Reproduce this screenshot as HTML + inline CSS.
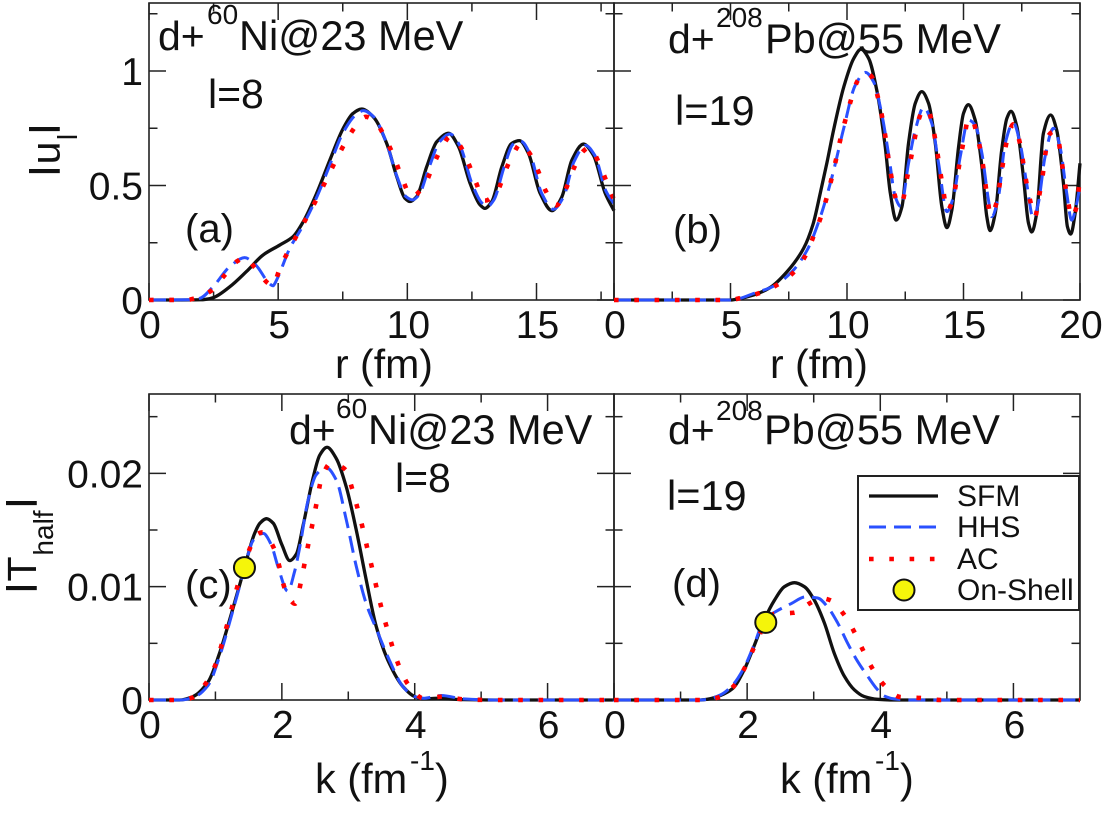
<!DOCTYPE html>
<html lang="en">
<head>
<meta charset="utf-8">
<title>Half-shell T-matrix and wave functions</title>
<style>
html,body{margin:0;padding:0;background:#fff;}
svg{display:block;}
text{font-family:"Liberation Sans",sans-serif;fill:#111;}
</style>
</head>
<body>
<svg id="chart" xmlns="http://www.w3.org/2000/svg" width="1104" height="814" viewBox="0 0 1104 814">
  <rect width="1104" height="814" fill="#fff"/>
  <g id="panels"></g>

  <g>
    <text x="158" y="50" font-size="41">d+</text>
    <text x="207" y="24" font-size="28">60</text>
    <text x="239" y="50" font-size="41.5">Ni@23 MeV</text>
    <text x="208" y="108" font-size="41">l=8</text>
    <text x="185" y="242" font-size="40">(a)</text>
  </g>
  <g>
    <text x="668" y="53" font-size="41">d+</text>
    <text x="716" y="27" font-size="28">208</text>
    <text x="765" y="53" font-size="41.5">Pb@55 MeV</text>
    <text x="675" y="125" font-size="41.5">l=19</text>
    <text x="673" y="243" font-size="40">(b)</text>
  </g>
  <g>
    <text x="289" y="444" font-size="41">d+</text>
    <text x="336" y="418" font-size="28">60</text>
    <text x="368" y="444" font-size="41.5">Ni@23 MeV</text>
    <text x="395" y="492" font-size="41">l=8</text>
    <text x="185" y="598" font-size="40">(c)</text>
  </g>
  <g>
    <text x="668" y="444" font-size="41">d+</text>
    <text x="716" y="420" font-size="28">208</text>
    <text x="764" y="444" font-size="41.5">Pb@55 MeV</text>
    <text x="667" y="510" font-size="41.5">l=19</text>
    <text x="672" y="597" font-size="40">(d)</text>
  </g>

  <text x="335" y="378" font-size="41">r (fm)</text>
  <text x="770" y="378" font-size="41">r (fm)</text>

  <g>
    <text x="315" y="793" font-size="41.5">k (fm</text>
    <text x="410" y="770" font-size="28">-1</text>
    <text x="435" y="793" font-size="41.5">)</text>
  </g>
  <g>
    <text x="780" y="793" font-size="41.5">k (fm</text>
    <text x="875" y="770" font-size="28">-1</text>
    <text x="900" y="793" font-size="41.5">)</text>
  </g>

  <g>
    <text transform="translate(52.3,171) rotate(-90)" text-anchor="middle" font-size="32" font-weight="bold">|</text>
    <text transform="translate(59.5,153) rotate(-90)" text-anchor="middle" font-size="41">u</text>
    <text transform="translate(77,137) rotate(-90)" text-anchor="middle" font-size="28">l</text>
    <text transform="translate(52.3,129) rotate(-90)" text-anchor="middle" font-size="32" font-weight="bold">|</text>
  </g>
  <g>
    <text transform="translate(29.3,588) rotate(-90)" text-anchor="middle" font-size="32" font-weight="bold">|</text>
    <text transform="translate(36,569) rotate(-90)" text-anchor="middle" font-size="41">T</text>
    <text transform="translate(53,533) rotate(-90)" text-anchor="middle" font-size="28">half</text>
    <text transform="translate(29.3,503) rotate(-90)" text-anchor="middle" font-size="32" font-weight="bold">|</text>
  </g>

  <g id="legend">
    <rect x="858" y="476" width="221" height="134" fill="#fff" stroke="#222" stroke-width="2"/>
    <line x1="869" y1="496" x2="938" y2="496" stroke="#111" stroke-width="3.2"/>
    <text x="957" y="506" font-size="30">SFM</text>
    <line x1="869" y1="527" x2="938" y2="527" stroke="#2a50ff" stroke-width="3" stroke-dasharray="17 8"/>
    <text x="957" y="537" font-size="30">HHS</text>
    <line x1="869" y1="559" x2="938" y2="559" stroke="#ff0000" stroke-width="4.6" stroke-dasharray="4.6 15.7"/>
    <text x="957" y="569" font-size="30">AC</text>
    <circle cx="904" cy="590" r="10.5" fill="#f5f50a" stroke="#111" stroke-width="2"/>
    <text x="957" y="600" font-size="30">On-Shell</text>
  </g>
</svg>

<script>
/* Tick values */
const topXMajorA = [0, 5, 10, 15];
const topXMinorA = [2.5, 7.5, 12.5, 17.5];
const topXMajorB = [5, 10, 15, 20];
const topXMinorB = [2.5, 7.5, 12.5, 17.5];
const topYMajor = [0, 0.5, 1];
const topYMinor = [0.25, 0.75, 1.25];
const topYLabels = ['0', '0.5', '1'];
const botXMajorC = [0, 2, 4, 6];
const botXMajorD = [2, 4, 6];
const botXMinor = [1, 3, 5];
const botYMajor = [0, 0.01, 0.02];
const botYMinor = [0.005, 0.015, 0.025];
const botYLabels = ['0', '0.01', '0.02'];

/* Panel (a) */
const aSfmR = [0,1,2,2.2,2.48,3.13,3.77,4.42,5.06,5.58,5.97,6.49,7,7.52,7.9,8.23,8.68,9.2,9.59,9.91,10.1,10.36,10.75,11.14,11.6,11.98,12.43,12.82,13,13.27,13.66,14.04,14.34,14.69,15.14,15.6,15.98,16.37,16.82,17.2,17.66,18];
const aSfmU = [0,0,0.001,0.003,0.01,0.058,0.124,0.197,0.24,0.277,0.342,0.466,0.611,0.75,0.815,0.834,0.8,0.684,0.539,0.444,0.43,0.451,0.582,0.691,0.728,0.67,0.509,0.415,0.4,0.43,0.582,0.684,0.696,0.64,0.466,0.39,0.45,0.611,0.681,0.633,0.466,0.39];
const aHhsR = [0,1.5,1.96,2.48,3.13,3.7,4.13,4.65,4.8,4.86,5,5.45,5.9,6.5,7,7.5,8,8.3,8.7,9.2,9.6,9.95,10.2,10.45,10.85,11.25,11.65,12.05,12.5,12.9,13.1,13.35,13.75,14.1,14.4,14.75,15.2,15.65,16.05,16.45,16.9,17.25,17.7,18];
const aHhsU = [0,0.001,0.007,0.058,0.146,0.185,0.153,0.073,0.062,0.07,0.102,0.226,0.313,0.451,0.59,0.728,0.808,0.827,0.8,0.684,0.539,0.451,0.437,0.459,0.582,0.691,0.725,0.67,0.509,0.422,0.408,0.437,0.582,0.681,0.693,0.638,0.466,0.396,0.451,0.604,0.675,0.633,0.473,0.42];
const aAcR = [0,1.5,1.66,2.39,2.91,3.42,3.71,4.1,4.61,4.78,4.86,5.08,5.44,5.81,6.19,6.56,6.91,7.26,7.64,8.07,8.4,8.77,9.17,9.5,9.78,10.17,10.69,11.01,11.36,11.65,12,12.36,12.65,13,13.49,13.78,14.11,14.4,14.72,15.07,15.34,15.76,16.15,16.44,16.82,17.05,17.4,17.7,18];
const aAcU = [0,0.001,0.004,0.039,0.106,0.17,0.185,0.141,0.073,0.062,0.075,0.143,0.223,0.301,0.377,0.456,0.536,0.616,0.696,0.769,0.8,0.776,0.702,0.62,0.537,0.452,0.508,0.591,0.67,0.713,0.68,0.598,0.515,0.434,0.477,0.56,0.64,0.684,0.643,0.562,0.48,0.413,0.488,0.574,0.651,0.667,0.603,0.52,0.437];

/* Panel (b) */
const bSfmR = [0,5,5.29,6,6.71,7.43,8.14,8.54,8.86,9.14,9.43,9.86,10.29,10.6,10.93,11.29,11.64,11.86,12.11,12.36,12.64,12.93,13.21,13.5,13.79,14.07,14.29,14.5,14.79,15,15.21,15.5,15.79,16,16.14,16.36,16.64,16.86,17.04,17.29,17.57,17.79,17.93,18.14,18.43,18.74,19,19.29,19.46,19.6,19.79,20];
const bSfmU = [0,0,0.004,0.022,0.055,0.124,0.226,0.33,0.47,0.6,0.745,0.93,1.055,1.095,1.055,0.91,0.67,0.466,0.349,0.408,0.684,0.859,0.91,0.859,0.684,0.408,0.316,0.393,0.67,0.815,0.853,0.786,0.582,0.364,0.303,0.378,0.655,0.793,0.824,0.757,0.539,0.335,0.297,0.378,0.728,0.808,0.742,0.509,0.32,0.288,0.378,0.597];
const bHhsR = [0,5,5.29,6,6.86,7.64,8.29,8.86,9.36,9.86,10.36,10.79,11.14,11.5,11.79,12.07,12.31,12.64,12.93,13.29,13.64,13.93,14.29,14.57,14.86,15.21,15.5,15.79,16.07,16.21,16.5,16.79,17.14,17.43,17.71,18,18.21,18.5,18.86,19.14,19.43,19.64,19.86,20];
const bHhsU = [0,0,0.004,0.029,0.061,0.124,0.218,0.364,0.539,0.75,0.939,0.994,0.953,0.808,0.633,0.451,0.408,0.597,0.742,0.841,0.771,0.597,0.386,0.451,0.626,0.786,0.764,0.64,0.437,0.364,0.451,0.684,0.774,0.684,0.509,0.357,0.422,0.626,0.75,0.67,0.466,0.349,0.422,0.5];
const bAcR = [0,5,5.36,6.21,7,7.69,8.21,8.54,8.86,9.11,9.33,9.53,9.71,9.93,10.17,10.46,10.79,11.04,11.31,11.5,11.64,11.76,11.9,12.07,12.21,12.39,12.56,12.73,12.89,13.07,13.29,13.47,13.71,13.86,13.99,14.13,14.29,14.54,14.71,14.86,15.03,15.21,15.4,15.57,15.76,15.89,16,16.17,16.43,16.57,16.71,16.86,17.14,17.43,17.57,17.71,17.89,18.07,18.24,18.39,18.5,18.67,18.86,19.04,19.19,19.31,19.46,19.64,19.86,19.97,20];
const bAcU = [0,0,0.007,0.029,0.066,0.119,0.192,0.272,0.357,0.44,0.527,0.614,0.699,0.786,0.873,0.958,0.99,0.978,0.892,0.803,0.718,0.63,0.541,0.451,0.415,0.434,0.524,0.611,0.696,0.786,0.833,0.83,0.742,0.655,0.568,0.48,0.39,0.437,0.527,0.616,0.706,0.793,0.783,0.723,0.636,0.549,0.461,0.371,0.429,0.517,0.607,0.694,0.767,0.681,0.594,0.507,0.422,0.364,0.451,0.539,0.629,0.721,0.735,0.71,0.623,0.536,0.448,0.361,0.41,0.498,0.5];

/* Panel (c) */
const cSfmK = [0,0.46,0.66,0.89,1.06,1.24,1.42,1.59,1.67,1.77,1.87,2,2.12,2.22,2.32,2.47,2.57,2.68,2.82,2.97,3.12,3.27,3.42,3.62,3.82,4,4.13,4.33,4.73,5.23,7];
const cSfmT = [0,0,0.0003,0.0016,0.0041,0.0076,0.0113,0.0147,0.0156,0.016,0.0156,0.0137,0.0123,0.0129,0.0154,0.0196,0.0216,0.0223,0.0213,0.0188,0.015,0.0106,0.0065,0.0032,0.0012,0.0003,0.0001,0.00015,0.00003,0,0];
const cHhsK = [0,0.46,0.66,0.89,1.06,1.24,1.42,1.57,1.72,1.84,1.94,2.09,2.19,2.27,2.39,2.52,2.67,2.82,2.97,3.12,3.27,3.42,3.62,3.82,4,4.13,4.4,4.73,5.2,7];
const cHhsT = [0,0,0.0002,0.0013,0.0038,0.0074,0.0112,0.0141,0.0147,0.0137,0.0118,0.0096,0.0113,0.0135,0.0175,0.0199,0.0205,0.0194,0.0159,0.0118,0.0085,0.0063,0.0035,0.0012,0.0003,0.00015,0.0004,0.0001,0,0];
const cAcK = [0,0.45,0.65,0.86,1,1.09,1.17,1.25,1.33,1.43,1.52,1.62,1.71,1.79,1.88,1.97,2.04,2.2,2.29,2.35,2.41,2.47,2.53,2.59,2.74,2.85,2.96,3.06,3.14,3.22,3.29,3.36,3.43,3.5,3.58,3.67,3.77,3.91,4.13,4.43,4.73,5.2,7];
const cAcT = [0,0,0.0002,0.0015,0.0031,0.0048,0.0065,0.0082,0.01,0.0118,0.0134,0.0146,0.0148,0.0143,0.0134,0.0116,0.0099,0.0085,0.0105,0.0123,0.0141,0.0158,0.0176,0.0194,0.0209,0.0207,0.0203,0.0186,0.0169,0.0151,0.0133,0.0116,0.0098,0.0081,0.0064,0.0046,0.0029,0.0013,0.00015,0.0003,0.00006,0,0];
const cShellK = [1.437];
const cShellT = [0.01168];

/* Panel (d) */
const dSfmK = [0,1.3,1.4,1.6,1.78,1.95,2.1,2.26,2.41,2.56,2.71,2.86,3.01,3.16,3.31,3.46,3.61,3.76,3.96,4.2,7];
const dSfmT = [0,0,0.00006,0.0004,0.001,0.0026,0.0047,0.0071,0.0088,0.01,0.01035,0.01,0.0088,0.0068,0.0041,0.0021,0.0009,0.0003,0.00006,0,0];
const dHhsK = [0,1.3,1.4,1.6,1.78,1.95,2.1,2.26,2.46,2.66,2.88,3.06,3.21,3.36,3.51,3.66,3.81,3.96,4.06,4.21,4.46,7];
const dHhsT = [0,0,0.00006,0.00045,0.0013,0.0028,0.0048,0.0071,0.0079,0.0085,0.0091,0.009,0.0082,0.0068,0.005,0.0034,0.0021,0.0009,0.00035,0.0001,0,0];
const dAcK = [0,1.3,1.58,1.81,1.97,2.1,2.28,2.41,2.7,2.96,3.11,3.25,3.46,3.61,3.74,3.88,4.06,4.3,4.6,4.91,7];
const dAcT = [0,0,0.00024,0.0013,0.0029,0.0046,0.0068,0.0076,0.0077,0.0086,0.009,0.0088,0.0075,0.006,0.0044,0.0028,0.0013,0.00026,0.00018,0,0];
const dShellK = [2.28];
const dShellT = [0.00685];

const SVG_NS = 'http://www.w3.org/2000/svg';
const root = document.getElementById('panels');

function make(tag, attrs, parent) {
  const el = document.createElementNS(SVG_NS, tag);
  for (const k in attrs) el.setAttribute(k, attrs[k]);
  parent.appendChild(el);
  return el;
}

/* Monotone cubic through the data points */
function curvePath(xs, ys, sx, sy) {
  const px = xs.map(sx), py = ys.map(sy), n = px.length;
  const d = [], m = new Array(n);
  for (let i = 0; i < n - 1; i++) d.push((py[i + 1] - py[i]) / (px[i + 1] - px[i]));
  m[0] = d[0]; m[n - 1] = d[n - 2];
  for (let i = 1; i < n - 1; i++) {
    if (d[i - 1] * d[i] <= 0) { m[i] = 0; continue; }
    const h0 = px[i] - px[i - 1], h1 = px[i + 1] - px[i];
    m[i] = 3 * (h0 + h1) / ((2 * h1 + h0) / d[i - 1] + (h1 + 2 * h0) / d[i]);
  }
  let s = 'M' + px[0].toFixed(2) + ' ' + py[0].toFixed(2);
  for (let i = 0; i < n - 1; i++) {
    const h = (px[i + 1] - px[i]) / 3;
    s += 'C' + (px[i] + h).toFixed(2) + ' ' + (py[i] + m[i] * h).toFixed(2) + ' ' +
         (px[i + 1] - h).toFixed(2) + ' ' + (py[i + 1] - m[i + 1] * h).toFixed(2) + ' ' +
         px[i + 1].toFixed(2) + ' ' + py[i + 1].toFixed(2);
  }
  return s;
}

function drawPanel(p) {
  const g = make('g', {}, root);
  
  
  const sx = v => p.left + (v - p.xMin) / (p.xMax - p.xMin) * (p.right - p.left);
  const sy = v => p.bottom - v / p.yMax * (p.bottom - p.top);

  const frame = make('rect', {x: p.left, y: p.top, width: p.right - p.left, height: p.bottom - p.top, fill: 'none', stroke: '#222', 'stroke-width': 1.6}, g);
  
  

  const tick = (x1, y1, x2, y2, kind) => {
    const t = make('line', {x1: x1, y1: y1, x2: x2, y2: y2, stroke: '#222', 'stroke-width': 1.5}, g);
    
    
  };
  p.xMajor.forEach(v => { tick(sx(v), p.bottom, sx(v), p.bottom - 17, 'x-major'); tick(sx(v), p.top, sx(v), p.top + 17, 'x-major'); });
  p.xMinor.forEach(v => { tick(sx(v), p.bottom, sx(v), p.bottom - 8.5, 'x-minor'); tick(sx(v), p.top, sx(v), p.top + 8.5, 'x-minor'); });
  p.yMajor.forEach(v => { tick(p.left, sy(v), p.left + 17, sy(v), 'y-major'); tick(p.right, sy(v), p.right - 17, sy(v), 'y-major'); });
  p.yMinor.forEach(v => { tick(p.left, sy(v), p.left + 8.5, sy(v), 'y-minor'); tick(p.right, sy(v), p.right - 8.5, sy(v), 'y-minor'); });

  p.xMajor.forEach(v => {
    const t = make('text', {x: sx(v) + 1, y: p.bottom + 38, 'font-size': 39, 'text-anchor': 'middle'}, g);
    
    
    t.textContent = String(v);
  });
  if (p.yLabels) p.yMajor.forEach((v, i) => {
    const t = make('text', {x: 143, y: sy(v) + 14, 'font-size': 39, 'text-anchor': 'end'}, g);
    
    
    t.textContent = p.yLabels[i];
  });

  const sfm = make('path', {d: curvePath(p.sfm[0], p.sfm[1], sx, sy), fill: 'none', stroke: '#111', 'stroke-width': 3.3, 'stroke-linejoin': 'round'}, g);
  
  
  const hhs = make('path', {d: curvePath(p.hhs[0], p.hhs[1], sx, sy), fill: 'none', stroke: '#2a50ff', 'stroke-width': 3, 'stroke-dasharray': '17 8'}, g);
  
  
  const ac = make('path', {d: curvePath(p.ac[0], p.ac[1], sx, sy), fill: 'none', stroke: '#ff0000', 'stroke-width': 4.6, 'stroke-dasharray': '4.6 15.7'}, g);
  
  

  if (p.shell) {
    const c = make('circle', {cx: sx(p.shell[0][0]), cy: sy(p.shell[1][0]), r: 10.5, fill: '#f5f50a', stroke: '#111', 'stroke-width': 2}, g);
    
    
  }
}

drawPanel({id: 'a', left: 149, right: 614, top: 3, bottom: 300, xMin: 0, xMax: 18, yMax: 1.297,
  xMajor: topXMajorA, xMinor: topXMinorA, yMajor: topYMajor, yMinor: topYMinor, yLabels: topYLabels,
  sfm: [aSfmR, aSfmU], hhs: [aHhsR, aHhsU], ac: [aAcR, aAcU]});
drawPanel({id: 'b', left: 614, right: 1080, top: 3, bottom: 300, xMin: 0, xMax: 20, yMax: 1.297,
  xMajor: [0].concat(topXMajorB), xMinor: topXMinorB, yMajor: topYMajor, yMinor: topYMinor,
  sfm: [bSfmR, bSfmU], hhs: [bHhsR, bHhsU], ac: [bAcR, bAcU]});
drawPanel({id: 'c', left: 149, right: 614, top: 394, bottom: 700, xMin: 0, xMax: 7, yMax: 0.027,
  xMajor: botXMajorC, xMinor: botXMinor, yMajor: botYMajor, yMinor: botYMinor, yLabels: botYLabels,
  sfm: [cSfmK, cSfmT], hhs: [cHhsK, cHhsT], ac: [cAcK, cAcT], shell: [cShellK, cShellT]});
drawPanel({id: 'd', left: 614, right: 1080, top: 394, bottom: 700, xMin: 0, xMax: 7, yMax: 0.027,
  xMajor: [0].concat(botXMajorD), xMinor: botXMinor, yMajor: botYMajor, yMinor: botYMinor,
  sfm: [dSfmK, dSfmT], hhs: [dHhsK, dHhsT], ac: [dAcK, dAcT], shell: [dShellK, dShellT]});
</script>
</body>
</html>
